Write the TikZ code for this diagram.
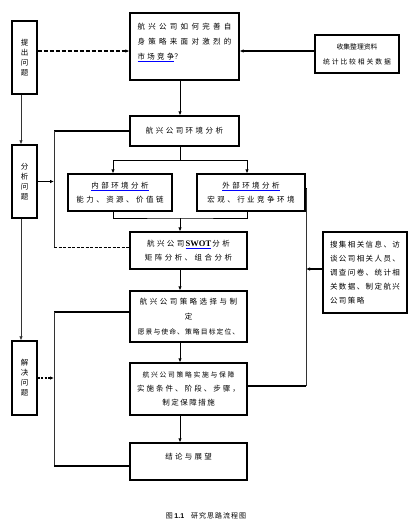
\documentclass[tikz,border=0pt]{standalone}
\usepackage{fontspec}
\setmainfont{Noto Sans CJK SC}
\newfontfamily\swotfont{Liberation Serif}
\newfontfamily\numfont{Liberation Sans}
\usepackage{tikz}
\usetikzlibrary{arrows.meta}
\newcommand{\ls}[2]{{\addfontfeatures{LetterSpace=#1}#2}}
\newcommand{\blueul}[1]{\textcolor{blue}{\underline{\textcolor{black}{#1}}}}

\begin{document}
\begin{tikzpicture}[x=1pt,y=-1pt,
        box/.style={draw, line width=1.3pt, inner sep=0pt, align=center, font=\fontsize{7.5}{14}\selectfont},
        sidebox/.style={box, minimum width=25pt, minimum height=73pt, font=\fontsize{7.5}{10}\selectfont},
        thinline/.style={line width=0.7pt, draw=black!80},
        thickline/.style={line width=1.2pt},
        spineline/.style={line width=0.9pt},
        >={Latex[length=4pt,width=3.5pt]}]

        \useasboundingbox (0,0) rectangle (416,528);

        \coordinate (spine) at (180,0);
        \coordinate (lspine) at (21,0);
        \coordinate (vline) at (54,0);
        \coordinate (rline) at (306,0);

        % left column
        \node[sidebox] (ask) at (24.5,57.5) {提\\出\\问\\题};
        \node[sidebox] (analyse) at (24.5,181.5) {分\\析\\问\\题};
        \node[sidebox, minimum height=74pt] (solve) at (24.5,378) {解\\决\\问\\题};

        % main column
        \node[box, minimum width=109pt, minimum height=67pt, align=left, font=\fontsize{7.5}{15}\selectfont] (q) at (184.5,46.5)
            {\ls{44}{航兴公司如何完善自}\\\ls{44}{身策略来面对激烈的}\\\blueul{\ls{30}{市场竞争}}？\\[-4pt]\mbox{}};
        \node[box, minimum width=84pt, minimum height=38pt, font=\fontsize{6.8}{15}\selectfont] (collect) at (357,54)
            {收集整理资料\\\ls{28}{统计比较相关数据}};
        \node[box, minimum width=109pt, minimum height=30pt] (env) at (184.5,131) {\ls{33}{航兴公司环境分析}};
        \node[box, minimum width=104pt, minimum height=37pt] (inner) at (120,192.5)
            {\blueul{\ls{33}{内部环境分析}}\\\ls{33}{能力、资源、价值链}};
        \node[box, minimum width=108pt, minimum height=37pt] (outer) at (251,192.5)
            {\blueul{\ls{33}{外部环境分析}}\\\ls{33}{宏观、行业竞争环境}};
        \node[box, minimum width=117pt, minimum height=37pt] (swot) at (188.5,250.5)
            {\ls{33}{航兴公司}\,\blueul{\fontsize{8.5}{14}\selectfont\swotfont\bfseries SWOT}\,\ls{33}{分析}\\\ls{33}{矩阵分析、组合分析}};
        \node[box, minimum width=84pt, minimum height=81pt, align=left] (search) at (365,272.5)
            {\ls{19}{搜集相关信息、访}\\\ls{19}{谈公司相关人员、}\\\ls{19}{调查问卷、统计相}\\\ls{19}{关数据、制定航兴}\\\ls{19}{公司策略}};
        \node[box, minimum width=117pt, minimum height=51pt, font=\fontsize{7.5}{15}\selectfont] (choose) at (188.5,316.5)
            {\ls{33}{航兴公司策略选择与制}\\定\\{\fontsize{6.8}{15}\selectfont\ls{16}{愿景与使命、策略目标定位、}}};
        \node[box, minimum width=117pt, minimum height=52pt] (impl) at (188.5,389)
            {{\fontsize{6.8}{14}\selectfont\ls{25}{航兴公司策略实施与保障}}\\\ls{27}{实施条件、阶段、步骤，}\\\ls{20}{制定保障措施}};
        \node[box, minimum width=117pt, minimum height=37pt] (concl) at (188.5,461.5) {\ls{30}{结论与展望}\\[-3pt]\mbox{}};

        \node[font=\fontsize{7}{8}\selectfont] (caption) at (206,516) {图 {\numfont\bfseries 1.1}\quad\ls{14}{研究思路流程图}};

        % helper points
        \coordinate (a1) at ([yshift=6.5pt]ask.east);
        \coordinate (c1) at ([yshift=3pt]collect.west);
        \coordinate (s1) at ([yshift=3pt]swot.west);
        \coordinate (ch1) at ([yshift=4.5pt]choose.west);
        \coordinate (co1) at ([yshift=-4.5pt]concl.west);
        \coordinate (o1) at ([yshift=3.5pt]outer.east);
        \coordinate (i1) at ([yshift=3pt]impl.east);
        \coordinate (se1) at ([yshift=3.5pt]search.west);
        \coordinate (split) at (180,160);
        \coordinate (join) at (180,218);

        \draw[thickline, dash pattern=on 4pt off 2pt, ->] (a1) -- (a1 -| q.west);
        \draw[thickline, ->] (c1) -- (c1 -| q.east);

        \draw[thinline, ->] (ask.south -| lspine) -- (analyse.north -| lspine);
        \draw[thinline, ->] (analyse.south -| lspine) -- (solve.north -| lspine);
        \draw[thickline, ->] (analyse.east) -- (analyse.east -| vline);
        \draw[thickline, dash pattern=on 2pt off 1.5pt, ->] (solve.east) -- (solve.east -| vline);

        \draw[thickline] (env.west) -- (env.west -| vline);
        \draw[thinline] (env.west -| vline) -- (s1 -| vline);
        \draw[thickline, dash pattern=on 3pt off 1.5pt] (s1 -| vline) -- (s1);

        \draw[thickline] (ch1) -- (ch1 -| vline);
        \draw[thinline] (ch1 -| vline) -- (co1 -| vline);
        \draw[thickline] (co1 -| vline) -- (co1);

        \draw[spineline, ->] (q.south -| spine) -- (env.north -| spine);
        \draw[spineline] (env.south -| spine) -- (split);
        \draw[spineline, ->] (split) -| ([xshift=-7pt]inner.north);
        \draw[spineline, ->] (split) -| ([xshift=-4pt]outer.north);
        \draw[spineline] ([xshift=-7pt]inner.south) |- (join) -| ([xshift=-4pt]outer.south);
        \draw[spineline, ->] (join) -- (swot.north -| spine);
        \draw[spineline, ->] (swot.south -| spine) -- (choose.north -| spine);
        \draw[spineline, ->] (choose.south -| spine) -- (impl.north -| spine);
        \draw[spineline, ->] (impl.south -| spine) -- (concl.north -| spine);

        \draw[thickline] (o1) -- (o1 -| rline);
        \draw[thinline] (o1 -| rline) -- (i1 -| rline);
        \draw[thickline] (i1 -| rline) -- (i1);
        \draw[thickline, ->] (se1) -- (se1 -| rline);

    \end{tikzpicture}
\end{document}
